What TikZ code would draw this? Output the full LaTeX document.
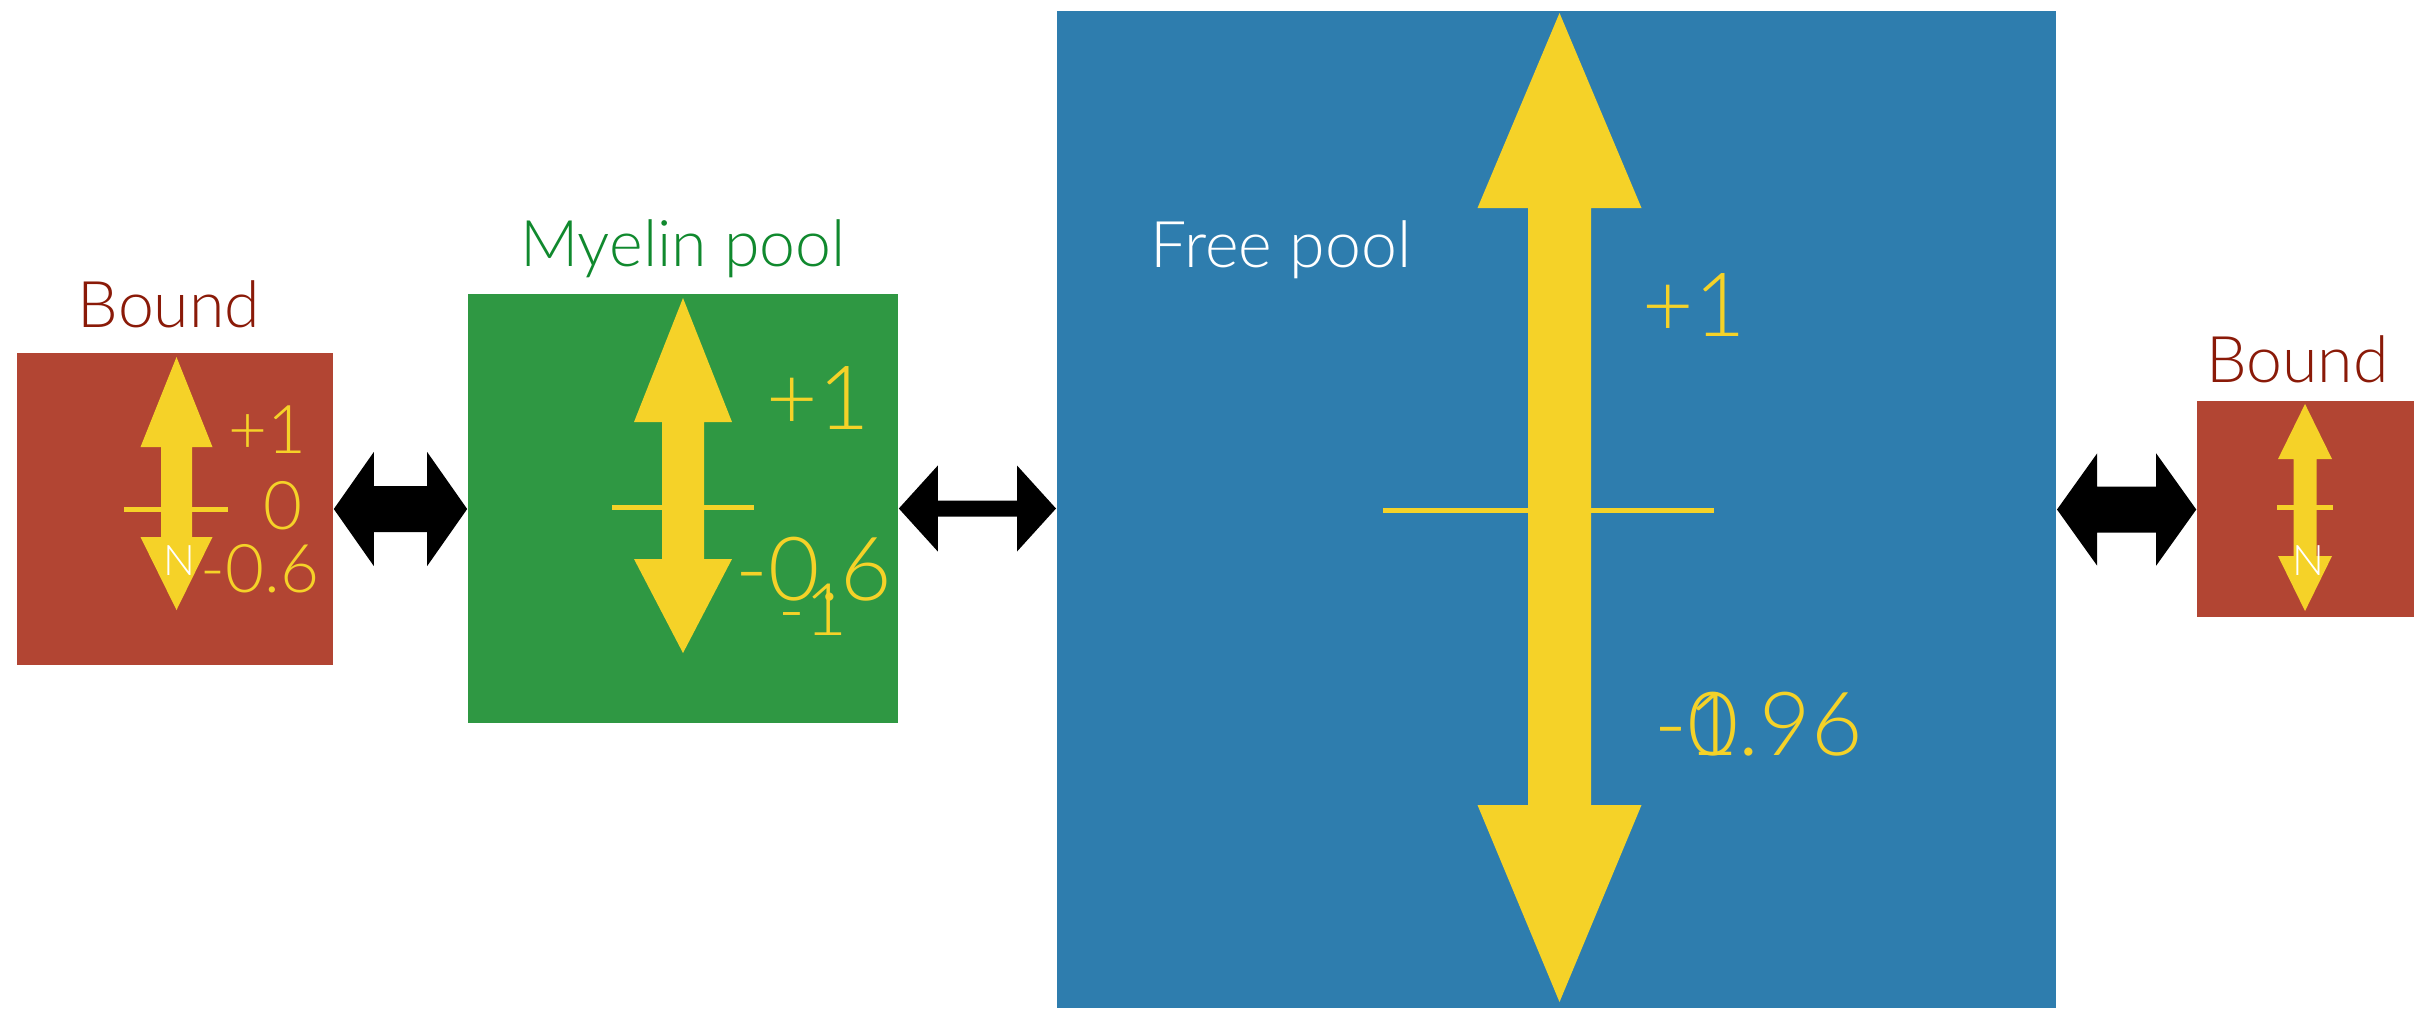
\documentclass[tikz,border=0pt]{standalone}
\usepackage{fontspec}
\setmainfont{Lato}[UprightFont={* Light}]
\usetikzlibrary{arrows.meta,positioning,calc}
\definecolor{bndred}{HTML}{B24533}
\definecolor{bndlbl}{HTML}{8A1A08}
\definecolor{myegrn}{HTML}{2F9843}
\definecolor{myelbl}{HTML}{10892E}
\definecolor{freblu}{HTML}{2E7DAE}
\definecolor{spinyel}{HTML}{F5D228}
\tikzset{
  pool/.style    ={rectangle, inner sep=0pt, draw=none},
  poolname/.style={inner sep=0pt, font=\fontsize{18.3}{20}\selectfont},
  val/.style     ={inner sep=0pt, anchor=base west, text=spinyel, font=\fontsize{25.2}{28}\selectfont},
  valsm/.style   ={val, font=\fontsize{19.1}{21}\selectfont},
  zmark/.style   ={inner sep=0pt, text=white, font=\fontsize{12}{13}\selectfont},
  tick/.style    ={draw=spinyel, line width=0.05cm},
  spin/.style    ={fill=spinyel},
  % shaft half width, head half width, head length
  xch/.style n args={3}{fill=black, to path={
    let \p1=(\tikztostart), \p2=(\tikztotarget) in
    (\x1,\y1) -- (\x1+#3,\y1+#2) -- (\x1+#3,\y1+#1) -- (\x2-#3,\y1+#1) -- (\x2-#3,\y1+#2)
    -- (\x2,\y1) -- (\x2-#3,\y1-#2) -- (\x2-#3,\y1-#1) -- (\x1+#3,\y1-#1) -- (\x1+#3,\y1-#2) -- cycle}},
}
% cx, base y, tip y, head half width, shaft half width, head length (signed)
\newcommand{\spinarrow}[6]{%
  \fill[spin] ({#1-#5},#2) -- ({#1-#5},{#3+#6}) -- ({#1-#4},{#3+#6}) -- (#1,#3)
    -- ({#1+#4},{#3+#6}) -- ({#1+#5},{#3+#6}) -- ({#1+#5},#2) -- cycle;}
\begin{document}
\begin{tikzpicture}[x=0.01cm, y=-0.01cm]
\useasboundingbox (0,0) rectangle (2428,1008);
% the four pools
\node[pool, fill=bndred, minimum width=3.16cm, minimum height=3.12cm] (bl) at (175,509) {};
\node[pool, fill=myegrn, minimum width=4.30cm, minimum height=4.29cm] (my) at (683,508.5) {};
\node[pool, fill=freblu, minimum width=9.99cm, minimum height=9.97cm] (fr) at (1556.5,509.5) {};
\node[pool, fill=bndred, minimum width=2.17cm, minimum height=2.16cm] (br) at (2305.5,509) {};
\node[poolname, text=bndlbl, above=0.25cm of bl.north, anchor=base, xshift=-0.06cm] (blname) {Bound};
\node[poolname, text=myelbl, above=0.27cm of my.north, anchor=base] (myname) {Myelin pool};
\node[poolname, text=white, anchor=base west] (frname) at (1150,267) {Free pool};
\node[poolname, text=bndlbl, above=0.18cm of br.north, anchor=base, xshift=-0.08cm] (brname) {Bound};
% exchange between pools
\path[xch={2.3mm}{5.7mm}{4mm}] (bl.east) to (my.west);
\path[xch={0.8mm}{4.3mm}{3.9mm}] (my.east) to (fr.west);
\path[xch={2.3mm}{5.6mm}{4mm}] (fr.east) to (br.west);
% left bound
\spinarrow{176.5}{509}{357}{36}{15.5}{90}
\spinarrow{176.5}{509}{610}{36}{15.5}{-73}
\draw[tick] (124,509) -- (228,509);
\node[valsm] (blp) at (228,453) {+1};
\node[valsm] (blz) at (263,529) {0};
\node[valsm] (blm) at (200,592) {-0.6};
\node[zmark] (bln) at (179,561) {N};
% myelin
\spinarrow{683}{507}{298}{49}{21}{124}
\spinarrow{683}{507}{653}{49}{21}{-94}
\draw[tick] (612,507) -- (754,507);
\node[val] (myp) at (766,429) {+1};
\node[val] (mym) at (735,600) {-0.6};
\node[val, font=\fontsize{20.6}{22}\selectfont] (mym1) at (778,635) {-1};
% free
\spinarrow{1559.5}{510}{13}{82}{31.5}{195}
\spinarrow{1559.5}{510}{1002}{82}{31.5}{-197}
\draw[tick] (1383,510) -- (1714,510);
\node[val] (frp) at (1642,336) {+1};
\node[val] (frm) at (1654,755) {-0.96};
\node[val] (frm1) at (1654,755) {-1};
% right bound
\spinarrow{2305}{507}{404}{27}{11.5}{55}
\spinarrow{2305}{507}{611}{27}{11.5}{-55}
\draw[tick] (2277,507) -- (2333,507);
\node[zmark] (brn) at (2308,561) {N};
\end{tikzpicture}
\end{document}
